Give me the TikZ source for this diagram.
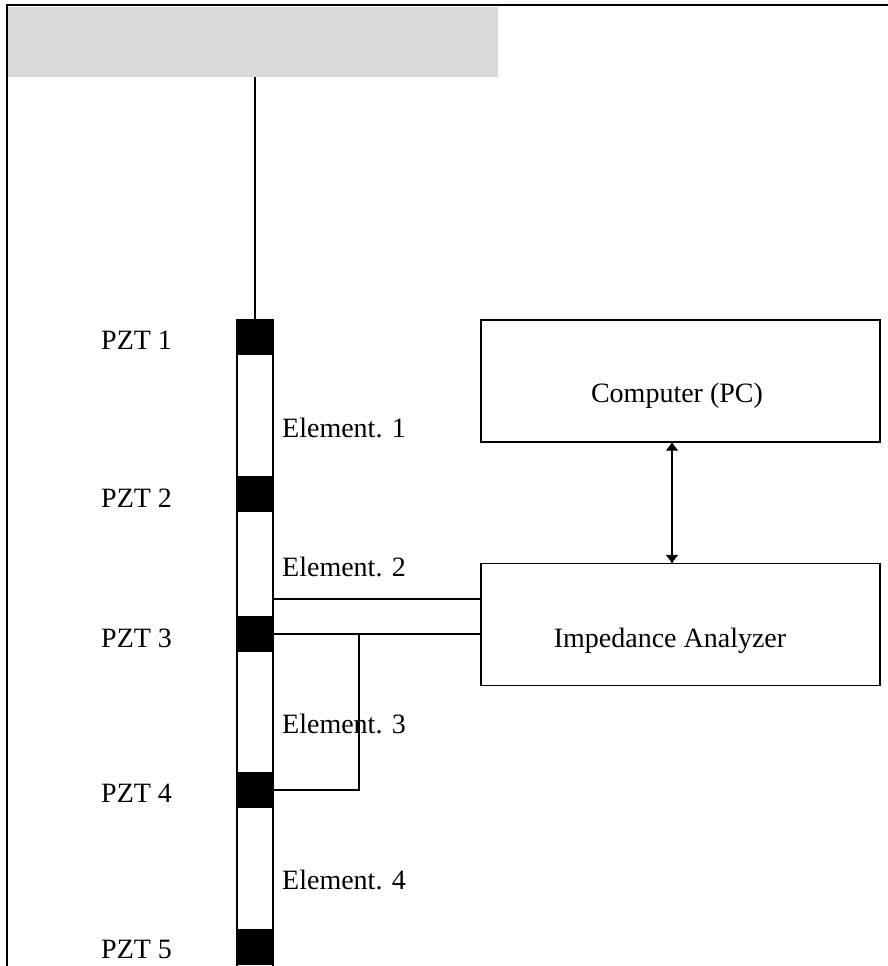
\documentclass[tikz,border=0pt]{standalone}
\usepackage{fontspec}
\setmainfont{Liberation Serif}
\usetikzlibrary{arrows.meta}
\tikzset{
  ln/.style={line width=1.4pt, black},
  frame/.style={line width=2.6pt, black},
  topbar/.style={fill={rgb,255:red,217;green,217;blue,217}, draw=none, inner sep=0pt,
    minimum width=490pt, minimum height=70pt},
  barbox/.style={draw, line width=1.4pt, fill=white, inner sep=0pt,
    minimum width=36pt, minimum height=660pt},
  pzt/.style={fill=black, draw=black, line width=1.4pt, inner sep=0pt,
    minimum width=36pt, minimum height=35pt},
  unit/.style={draw, line width=1.4pt, inner sep=0pt,
    minimum width=399pt, minimum height=122pt},
  lbl/.style={inner sep=0pt, anchor=base west, font=\fontsize{28}{32}\selectfont},
  ctr/.style={inner sep=0pt, anchor=base, font=\fontsize{28}{32}\selectfont},
  tip/.style={-{Triangle[length=8pt,width=12pt]}},
}
\begin{document}
\begin{tikzpicture}[x=1pt,y=-1pt]
\useasboundingbox (0,0) rectangle (888,966);
% top grey support
\node[topbar] (top) at (253,42) {};
% frame
\coordinate (fr) at (888,5);
\coordinate (fc) at (7,5);
\coordinate (fb) at (7,970);
\draw[frame] (fr) -- (fc) -- (fb);
% bar
\node[barbox] (bar) at (255,650) {};
% PZT blocks
\node[pzt] (p1) at (255,337) {};
\node[pzt] (p2) at (255,494) {};
\node[pzt] (p3) at (255,634) {};
\node[pzt] (p4) at (255,790) {};
\node[pzt] (p5) at (255,947) {};
% hanging wire
\draw[ln] (p1.north |- top.south) -- (p1.north);
% labels
\node[lbl] (t1) at (101,349) {PZT 1};
\node[lbl] (t2) at (101,507) {PZT 2};
\node[lbl] (t3) at (101,647) {PZT 3};
\node[lbl] (t4) at (101,802) {PZT 4};
\node[lbl] (t5) at (101,958) {PZT 5};
\node[lbl] (e1) at (282,437) {Element. 1};
\node[lbl] (e2) at (282,576) {Element. 2};
\node[lbl] (e3) at (282,733) {Element. 3};
\node[lbl] (e4) at (282,889) {Element. 4};
% instruments
\node[unit] (pc) at (680.5,381) {};
\node[ctr] (pct) at (677,402) {Computer (PC)};
\node[unit] (ia) at (680.5,624.5) {};
\node[ctr] (iat) at (670,647) {Impedance Analyzer};
% data link
\coordinate (a1) at (672,442);
\coordinate (a2) at (672,563);
\draw[ln, tip] (a1 |- pc.south) -- (a2 |- ia.north);
\draw[ln, tip] (a2 |- ia.north) -- (a1 |- pc.south);
% wiring
\coordinate (w1) at (273,599);
\draw[ln] (w1) -- (w1 -| ia.west);
\draw[ln] (p3.east) -- (p3.east -| ia.west);
\coordinate (j) at (359,634);
\draw[ln] (j) |- (p4.east);
\end{tikzpicture}
\end{document}
